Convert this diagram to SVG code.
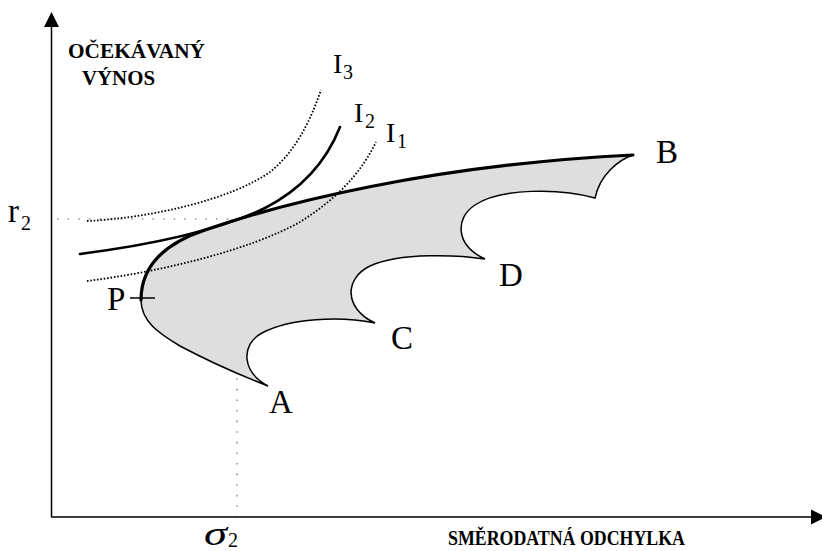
<svg xmlns="http://www.w3.org/2000/svg" width="822" height="551" viewBox="0 0 822 551">
<defs>
<marker id="arrow" markerUnits="userSpaceOnUse" markerWidth="15" markerHeight="15" refX="0" refY="7.5" orient="auto" overflow="visible">
<path d="M0,0 L15,7.5 L0,15 Z" fill="#000"/>
</marker>
<style>
.axis{stroke:#000;stroke-width:1.5;fill:none}
.guide{stroke:#999;stroke-width:1.6;stroke-dasharray:1.6 9;fill:none}
.dotted{stroke:#000;stroke-width:1.8;stroke-dasharray:1.6 1.8;fill:none}
.solid{stroke:#000;stroke-width:2.6;fill:none;stroke-linecap:round}
.thin{stroke:#000;stroke-width:1.5;fill:none;stroke-linejoin:miter}
.thick{stroke:#000;stroke-width:3.2;fill:none;stroke-linecap:round}
.axlabel{font-family:"Liberation Serif","Times New Roman",serif;font-weight:bold;font-size:21px;fill:#000}
.pt{font-family:"Liberation Serif","Times New Roman",serif;font-size:33px;fill:#000}
.ind{font-family:"Liberation Serif","Times New Roman",serif;font-size:28px;fill:#000}
.sub{font-family:"Liberation Serif","Times New Roman",serif;font-size:20px;fill:#000}
</style>
</defs>
<rect width="822" height="551" fill="#fff"/>

<g id="guides">
<path class="guide" d="M57,219 H237 V517"/>
</g>

<g id="region">
<path fill="#dedede" stroke="none" d="M141,300 C141,270 160,245 205,230 C280,204 430,165 633,155 C618,160 600,175 595,198 C560,188 500,188 475,205 C455,218 455,245 485,259 C460,255 400,252 370,266 C345,278 343,308 375,323 C340,316 290,318 262,333 C240,345 242,372 268,386 C245,377 210,362 180,346 C160,334 141,322 141,300 Z"/>
<path class="thin" d="M633,155 C618,160 600,175 595,198 C560,188 500,188 475,205 C455,218 455,245 485,259 C460,255 400,252 370,266 C345,278 343,308 375,323 C340,316 290,318 262,333 C240,345 242,372 268,386 C245,377 210,362 180,346 C160,334 141,322 141,300"/>
<path class="thick" d="M141,300 C141,270 160,245 205,230 C280,204 430,165 633,155"/>
<line class="thin" x1="130" y1="298" x2="155" y2="298"/>
</g>

<g id="indifference-curves">
<path id="I3" class="dotted" d="M87,221 C150,218 230,200 270,172 C295,152 310,122 321,90"/>
<path id="I2" class="solid" d="M80,254 C150,245 220,230 265,208 C300,190 325,165 340,127"/>
<path id="I1" class="dotted" d="M87,281 C160,272 250,250 300,222 C335,200 360,175 376,142"/>
</g>

<g id="axes">
<line class="axis" x1="51.5" y1="517" x2="51.5" y2="27" marker-end="url(#arrow)"/>
<line class="axis" x1="51" y1="517" x2="811" y2="517" marker-end="url(#arrow)"/>
</g>

<g id="labels">
<text class="axlabel" x="68" y="58" textLength="137" lengthAdjust="spacingAndGlyphs">OČEKÁVANÝ</text>
<text class="axlabel" x="82" y="85" textLength="73" lengthAdjust="spacingAndGlyphs">VÝNOS</text>
<text class="axlabel" x="448" y="545" textLength="237" lengthAdjust="spacingAndGlyphs">SMĚRODATNÁ ODCHYLKA</text>
<text class="pt" x="8" y="222" font-size="30">r</text><text class="sub" x="21" y="230" font-size="22">2</text>
<text class="pt" x="204" y="545" font-style="italic" font-size="32" textLength="23" lengthAdjust="spacingAndGlyphs">σ</text><text class="sub" x="228" y="547" font-size="20">2</text>
<text class="ind" x="333" y="73">I</text><text class="sub" x="343" y="79">3</text>
<text class="ind" x="354" y="122">I</text><text class="sub" x="365" y="128">2</text>
<text class="ind" x="386" y="142">I</text><text class="sub" x="397" y="148">1</text>
<text class="pt" x="107" y="310">P</text>
<text class="pt" x="269" y="413">A</text>
<text class="pt" x="656" y="163">B</text>
<text class="pt" x="391" y="349">C</text>
<text class="pt" x="499" y="286">D</text>
</g>
</svg>
